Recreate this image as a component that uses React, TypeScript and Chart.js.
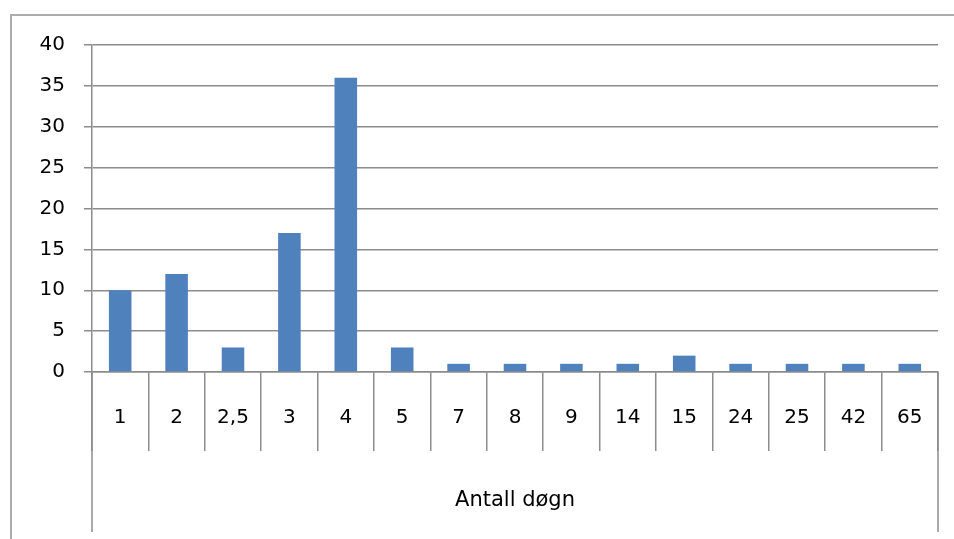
import React, { useEffect, useRef } from 'react';
import { Chart, registerables } from 'chart.js';

Chart.register(...registerables);

const categories = ['1', '2', '2,5', '3', '4', '5', '7', '8', '9', '14', '15', '24', '25', '42', '65'];
const values = [10, 12, 3, 17, 36, 3, 1, 1, 1, 1, 2, 1, 1, 1, 1];
const yMin = 0;
const yMax = 40;
const yStep = 5;
const xTitle = 'Antall døgn';

const GRID = '#8c8c8c';
const BAR = '#4F81BD';
const FRAME = '#adadad';
const FONT = '"DejaVu Sans", sans-serif';

const frameAndEdges = {
  id: 'frameAndEdges',
  beforeDraw(chart: any) {
    const { ctx } = chart;
    ctx.save();
    ctx.fillStyle = '#fff';
    ctx.fillRect(0, 0, chart.width, chart.height);
    ctx.strokeStyle = FRAME;
    ctx.lineWidth = 2;
    ctx.beginPath();
    ctx.moveTo(11, chart.height);
    ctx.lineTo(11, 15);
    ctx.lineTo(chart.width, 15);
    ctx.stroke();
    ctx.restore();
  },
  afterDraw(chart: any) {
    const { ctx, chartArea } = chart;
    const xs = chart.scales.x;
    ctx.save();
    ctx.strokeStyle = GRID;
    ctx.lineWidth = 1.5;
    [chartArea.left, chartArea.right].forEach((x: number) => {
      ctx.beginPath();
      ctx.moveTo(x, chartArea.bottom);
      ctx.lineTo(x, xs.bottom - 7);
      ctx.stroke();
    });
    ctx.restore();
  },
};

export default function App() {
  const ref = useRef<HTMLCanvasElement | null>(null);

  useEffect(() => {
    if (!ref.current) return;
    const chart = new Chart(ref.current, {
      type: 'bar',
      data: {
        labels: categories,
        datasets: [
          {
            data: values,
            backgroundColor: BAR,
            borderWidth: 0,
            categoryPercentage: 1,
            barPercentage: 0.4,
          },
        ],
      },
      options: {
        animation: false,
        responsive: false,
        maintainAspectRatio: false,
        devicePixelRatio: 1,
        layout: { padding: { top: 45, right: 16, left: 0, bottom: 0 } },
        plugins: {
          legend: { display: false },
          tooltip: { enabled: false },
        },
        scales: {
          x: {
            afterFit: (s: any) => {
              s.height = 167;
            },
            grid: {
              offset: true,
              drawOnChartArea: false,
              drawTicks: true,
              tickLength: 79,
              color: GRID,
              lineWidth: 1.5,
            },
            border: { display: true, color: GRID, width: 1.5 },
            ticks: {
              autoSkip: false,
              maxRotation: 0,
              padding: -45,
              color: '#000',
              font: { family: FONT, size: 20 },
            },
            title: {
              display: true,
              text: xTitle,
              color: '#000',
              font: { family: FONT, size: 21 },
              padding: { top: 0, bottom: 26 },
            },
          },
          y: {
            min: yMin,
            max: yMax,
            afterFit: (s: any) => {
              s.width = 92;
            },
            ticks: {
              stepSize: yStep,
              padding: 19,
              color: '#000',
              font: { family: FONT, size: 20 },
            },
            grid: {
              color: GRID,
              lineWidth: 1.5,
              drawTicks: true,
              tickLength: 8,
            },
            border: { display: true, color: GRID, width: 1.5 },
          },
        },
      },
      plugins: [frameAndEdges],
    });
    return () => chart.destroy();
  }, []);

  return (
    <div
      style={{
        position: 'fixed',
        left: 0,
        top: 0,
        width: 954,
        height: 539,
        overflow: 'hidden',
        background: '#fff',
      }}
    >
      <canvas
        ref={ref}
        width={954}
        height={539}
        style={{ display: 'block', width: 954, height: 539 }}
      />
    </div>
  );
}
